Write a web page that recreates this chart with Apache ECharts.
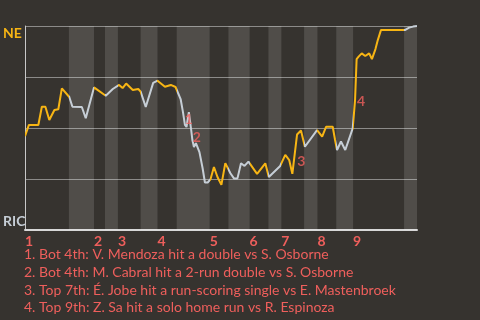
<!DOCTYPE html>
<html>
<head>
<meta charset="utf-8">
<script src="https://cdn.jsdelivr.net/npm/echarts@6/dist/echarts.min.js"></script>
<style>
html,body{margin:0;padding:0;background:#36332f;}
#c{width:480px;height:320px;}
</style>
</head>
<body>
<div id="c"></div>
<script>
// Game progress (0-100) and NE win probability (%)
const progress = [0,1.0,3.4,4.3,5.2,6.2,7.5,8.5,9.4,11.3,12.1,14.5,15.5,17.6,20.6,22.4,24.0,24.9,25.8,27.5,28.9,29.5,30.8,32.7,33.8,35.7,37.2,38.4,39.7,40.3,40.8,41.2,41.8,42.4,42.7,43.1,43.6,44.0,44.5,45.3,45.9,46.6,47.3,48.2,49.1,50.1,51.1,52.4,53.3,54.2,55.1,56.0,57.0,59.2,61.3,62.2,65.1,66.4,67.4,68.2,69.4,70.4,71.4,74.5,74.9,75.8,76.8,78.5,79.1,79.6,80.6,81.7,83.6,84.2,84.6,85.1,85.9,86.8,87.8,88.5,88.9,89.4,90.0,90.8,96.9,98.0,99.0,100];
const winProb = [46,51.5,51.5,60.4,60.4,53.9,58.8,59.2,69.4,65.2,60.4,60.3,54.8,69.9,65.8,69.1,71.1,69.6,71.8,68.6,69.1,67.8,60.3,72.1,73.2,70.2,71.1,70.1,64.2,57.8,51.5,50.5,57.8,49.0,44.1,40.7,42.6,42.6,38.2,30.4,23.3,23.3,24.8,30.9,26.0,22.1,32.8,27.8,25.3,25.3,32.7,31.4,33.5,27.5,32.7,26.0,31.4,36.8,34.3,27.5,46.8,48.8,40.8,49.0,49.9,45.8,50.6,50.6,44.1,39.2,43.4,39.2,49.8,63.7,83.8,85.0,86.6,85.3,86.6,83.8,83.3,88.7,93.1,98.0,98.0,99.2,99.7,100];
// Half-inning start positions (top 1st, bot 1st, top 2nd, ...), end of game
const halfStarts = [0,11.2,17.6,20.4,23.7,29.5,33.8,38.7,47.1,51.9,57.3,62.1,65.4,71.2,74.6,79.4,83.7,96.7];
const gameEnd = 100;
const inningLabels = ['1','2','3','4','5','6','7','8','9'];
// Annotations
const annoNum = ['1','2','3','4'];
const annoX = [41.8,43.8,70.5,85.7];
const annoY = [54.3,45.4,33.8,62.9];
const annoText = [
  'Bot 4th: V. Mendoza hit a double vs S. Osborne',
  'Bot 4th: M. Cabral hit a 2-run double vs S. Osborne',
  'Top 7th: \u00c9. Jobe hit a run-scoring single vs E. Mastenbroek',
  'Top 9th: Z. Sa hit a solo home run vs R. Espinoza'
];
const teamTop = 'NE', teamBottom = 'RIC';

const ORANGE = '#f7b514', GREY = '#c6ced6', SALMON = '#ef5f5c';
const FONT = 'Lato';

const halves = halfStarts.map((s, i) => [s, i + 1 < halfStarts.length ? halfStarts[i + 1] : gameEnd]);
const pieces = halves.map((h, i) => ({gte: h[0], lt: h[1] + (i === halves.length - 1 ? 0.001 : 0), color: i % 2 === 0 ? ORANGE : GREY}));
const bands = halves.filter((h, i) => i % 2 === 1).map(h => [{xAxis: h[0]}, {xAxis: h[1]}]);
const inningStarts = halfStarts.filter((s, i) => i % 2 === 0);

const chart = echarts.init(document.getElementById('c'));
chart.setOption({
  animation: false,
  backgroundColor: '#36332f',
  grid: {left: 24, right: 63, top: 26, bottom: 90},
  title: {
    text: annoText.map((t, i) => annoNum[i] + '. ' + t).join('\n'),
    left: 24, top: 246, padding: 0,
    textStyle: {color: SALMON, fontFamily: FONT, fontSize: 14, fontWeight: 'normal', lineHeight: 17.7}
  },
  visualMap: {show: false, type: 'piecewise', dimension: 0, seriesIndex: 0, pieces: pieces},
  xAxis: {
    type: 'value', min: 0, max: gameEnd,
    axisLine: {show: true, lineStyle: {color: '#d8d8d8', width: 2}},
    axisTick: {show: false},
    splitLine: {show: false},
    axisLabel: {
      customValues: inningStarts,
      formatter: v => { const i = inningStarts.indexOf(v); return i >= 0 ? inningLabels[i] : ''; },
      color: SALMON, fontFamily: FONT, fontSize: 14, fontWeight: 'bold', align: 'left', margin: 4
    }
  },
  yAxis: {
    type: 'value', min: 0, max: 100, interval: 25,
    axisLine: {show: true, lineStyle: {color: '#c8c8c8', width: 1}},
    axisTick: {show: false},
    splitLine: {show: true, lineStyle: {color: '#8c8b89', width: 1}},
    axisLabel: {
      align: 'left', margin: 22,
      formatter: v => v === 100 ? '{t|' + teamTop + '}' : (v === 0 ? '{b|' + teamBottom + '}' : ''),
      rich: {
        t: {color: ORANGE, fontFamily: FONT, fontSize: 14, fontWeight: 'bold', padding: [14, 0, 0, 0]},
        b: {color: '#c6ced6', fontFamily: FONT, fontSize: 14, fontWeight: 'bold', padding: [0, 0, 18, 0]}
      }
    }
  },
  series: [
    {
      type: 'line', data: progress.map((x, i) => [x, winProb[i]]),
      showSymbol: false, symbol: 'none', lineStyle: {width: 2}, z: 3,
      markArea: {silent: true, itemStyle: {color: 'rgba(255,255,255,0.13)'}, data: bands}
    },
    {
      type: 'scatter', data: annoX.map((x, i) => [x, annoY[i]]), symbolSize: 1,
      itemStyle: {color: 'rgba(0,0,0,0)'}, z: 4,
      label: {show: true, position: 'inside', formatter: p => annoNum[p.dataIndex], color: SALMON, fontFamily: FONT, fontSize: 14, fontWeight: 'bold'}
    }
  ]
});
</script>
</body>
</html>
